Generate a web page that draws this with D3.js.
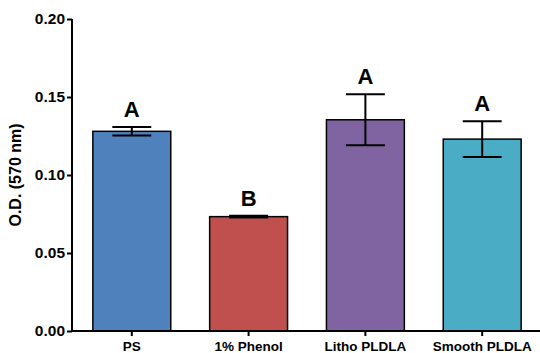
<!DOCTYPE html>
<html>
<head>
<meta charset="utf-8">
<script src="https://cdn.jsdelivr.net/npm/d3@7"></script>
<style>
  body { margin: 0; background: #fff; }
  svg text { font-family: Arial, "Liberation Sans", sans-serif; font-weight: bold; fill: #000; }
</style>
</head>
<body>
<div id="chart"></div>
<script>
const categories = ['PS', '1% Phenol', 'Litho PLDLA', 'Smooth PLDLA'];
const means = [0.1280, 0.0733, 0.1354, 0.1230];
const errors = [0.0027, 0.0005, 0.0163, 0.0115];
const letters = ['A', 'B', 'A', 'A'];
const colors = ['#4f81bd', '#c0504d', '#8064a2', '#4bacc6'];
const yTicks = [0, 0.05, 0.10, 0.15, 0.20];

const width = 540, height = 353;

const svg = d3.select('#chart')
    .append('svg')
    .attr('width', width)
    .attr('height', height);

const x = d3.scaleBand()
    .domain(categories)
    .range([73, 541])
    .paddingInner(0.333)
    .paddingOuter(0.17);

const y = d3.scaleLinear()
    .domain([0, 0.2])
    .range([331, 19]);

// Bars
svg.selectAll('rect.bar')
    .data(categories)
    .join('rect')
    .attr('class', 'bar')
    .attr('x', d => x(d))
    .attr('y', (d, i) => y(means[i]))
    .attr('width', x.bandwidth())
    .attr('height', (d, i) => y(0) - y(means[i]))
    .style('fill', (d, i) => colors[i])
    .style('stroke', '#000')
    .style('stroke-width', 1.5);

// Error bars
const capHalf = x.bandwidth() * 0.25;
const err = svg.selectAll('g.err')
    .data(categories)
    .join('g')
    .attr('class', 'err')
    .attr('transform', d => `translate(${x(d) + x.bandwidth() / 2},0)`)
    .style('stroke', '#000')
    .style('stroke-width', 2);

err.append('line')
    .attr('y1', (d, i) => y(means[i] + errors[i]))
    .attr('y2', (d, i) => y(means[i] - errors[i]));
err.append('line')
    .attr('x1', -capHalf).attr('x2', capHalf)
    .attr('y1', (d, i) => y(means[i] + errors[i]))
    .attr('y2', (d, i) => y(means[i] + errors[i]));
err.append('line')
    .attr('x1', -capHalf).attr('x2', capHalf)
    .attr('y1', (d, i) => y(means[i] - errors[i]))
    .attr('y2', (d, i) => y(means[i] - errors[i]));

// Significance letters
svg.selectAll('text.letter')
    .data(categories)
    .join('text')
    .attr('class', 'letter')
    .attr('x', d => x(d) + x.bandwidth() / 2)
    .attr('y', (d, i) => y(means[i] + errors[i]) - 10)
    .attr('text-anchor', 'middle')
    .style('font-size', '22px')
    .text((d, i) => letters[i]);

// Y axis
const yAxis = svg.append('g')
    .attr('transform', 'translate(72,0)')
    .call(d3.axisLeft(y).tickValues(yTicks).tickFormat(d3.format('.2f')).tickSize(5).tickPadding(2));
yAxis.select('.domain').attr('stroke-width', 2).attr('d', `M0,${y(0.2)}V${y(0)}`);
yAxis.selectAll('.tick line').attr('stroke-width', 2);
yAxis.selectAll('.tick text')
    .style('font-size', '15.5px')
    .attr('font-family', null);

// X axis
const xAxis = svg.append('g')
    .attr('transform', `translate(0,${y(0)})`)
    .call(d3.axisBottom(x).tickSize(5).tickPadding(5));
xAxis.select('.domain').attr('stroke-width', 2).attr('d', 'M71,0H540');
xAxis.selectAll('.tick line').attr('stroke-width', 2);
xAxis.selectAll('.tick text')
    .style('font-size', '13.5px')
    .attr('font-family', null);

// Y axis title
svg.append('text')
    .attr('transform', `translate(21,${(y(0) + y(0.2)) / 2}) rotate(-90)`)
    .attr('text-anchor', 'middle')
    .style('font-size', '16px')
    .text('O.D. (570 nm)');
</script>
</body>
</html>
